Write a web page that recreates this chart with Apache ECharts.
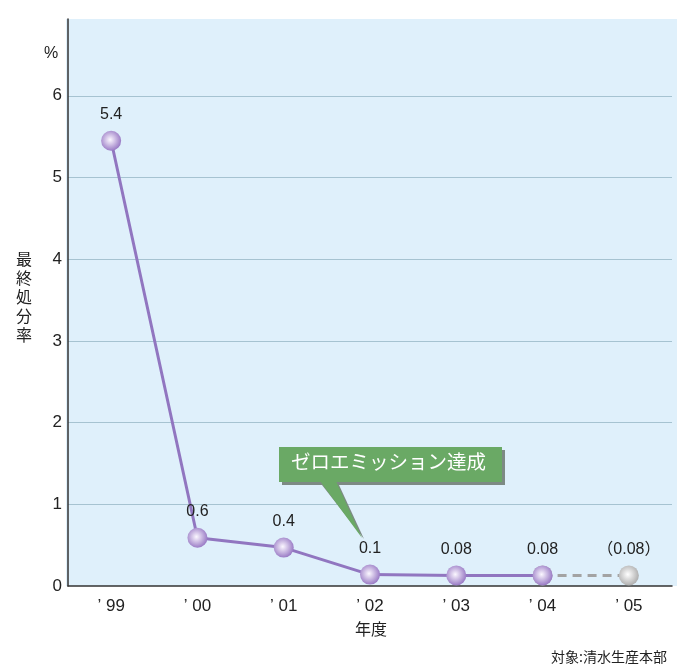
<!DOCTYPE html>
<html>
<head>
<meta charset="utf-8">
<script src="https://cdn.jsdelivr.net/npm/echarts@6/dist/echarts.min.js"></script>
<style>
html,body{margin:0;padding:0;background:#fff;}
#c{width:677px;height:668px;}
</style>
</head>
<body>
<div id="c"></div>
<script>
// Data
var categories = ['’ 99', '’ 00', '’ 01', '’ 02', '’ 03', '’ 04', '’ 05'];
var plottedValues = [5.45, 0.59, 0.47, 0.14, 0.13, 0.13, null];
var projectedValues = [null, null, null, null, null, 0.13, 0.13];
var valueLabels = ['5.4', '0.6', '0.4', '0.1', '0.08', '0.08', '（0.08）'];
var yTicks = [0, 1, 2, 3, 4, 5, 6];

var chart = echarts.init(document.getElementById('c'));
var latin = '"Liberation Sans", Arial, "Noto Sans CJK JP", sans-serif';
var cjk = '"Noto Sans CJK JP", sans-serif';

function sphere(c0, c1) {
  return {
    type: 'radial', x: 0.45, y: 0.45, r: 0.6,
    colorStops: [{offset: 0, color: c0}, {offset: 1, color: c1}]
  };
}
var purpleBall = sphere('#fbf7ff', '#9170c0');
var grayBall = sphere('#ffffff', '#a8a8a8');

var gridColors = ['rgba(0,0,0,0)'];
for (var i = 1; i < yTicks.length; i++) gridColors.push('#a6c3d1');
gridColors.push('rgba(0,0,0,0)');

var option = {
  animation: false,
  grid: {left: 68, right: 5, top: 19, bottom: 82, containLabel: false},
  xAxis: {
    type: 'category',
    data: categories,
    boundaryGap: true,
    axisLine: {show: true, lineStyle: {color: '#333', width: 1.5}},
    axisTick: {show: false},
    axisLabel: {color: '#222', fontSize: 17, fontFamily: latin, margin: 12}
  },
  yAxis: {
    type: 'value',
    min: 0, max: 6.94, interval: 1,
    axisLine: {show: true, lineStyle: {color: '#333', width: 1.5}},
    axisTick: {show: false},
    axisLabel: {color: '#222', fontSize: 17, fontFamily: latin, margin: 6, showMaxLabel: false,
      formatter: function (v) { return yTicks.indexOf(v) >= 0 ? String(v) : ''; }},
    splitLine: {show: true, lineStyle: {color: gridColors, width: 1.2}}
  },
  graphic: [
    {type: 'rect', z: -10, silent: true, shape: {x: 66, y: 19, width: 611, height: 567}, style: {fill: '#dff0fb'}},
    {type: 'text', left: 44, top: 46, style: {text: '%', fontSize: 16, fontFamily: latin, fill: '#222'}},
    {type: 'text', left: 16, top: 249, style: {text: '最\n終\n処\n分\n率', fontSize: 16, lineHeight: 19, fontFamily: cjk, fill: '#222'}},
    {type: 'text', left: 355, top: 621, style: {text: '年度', fontSize: 16, fontFamily: cjk, fill: '#222'}},
    {type: 'text', right: 10, top: 650, style: {text: '対象:清水生産本部', fontSize: 14, fontFamily: cjk, fill: '#222'}},
    // callout
    {type: 'polygon', z: 20, shape: {points: [[322, 485], [339, 485], [364, 539]]}, style: {fill: '#7d8a84'}},
    {type: 'rect', z: 20, shape: {x: 282, y: 450, width: 223, height: 35}, style: {fill: '#7d8a84'}},
    {type: 'polygon', z: 21, shape: {points: [[320, 481], [336, 481], [362, 538]]}, style: {fill: '#6aa965'}},
    {type: 'rect', z: 21, shape: {x: 279, y: 447, width: 223, height: 35}, style: {fill: '#6aa965'}},
    {type: 'text', z: 22, left: 291, top: 452, style: {text: 'ゼロエミッション達成', fontSize: 19.5, fontFamily: cjk, fill: '#ffffff'}}
  ],
  series: [
    {
      type: 'line',
      data: projectedValues,
      z: 2,
      symbol: 'circle', symbolSize: 20,
      lineStyle: {color: '#a3a3a3', width: 3, type: [9, 6]},
      itemStyle: {color: grayBall, borderWidth: 0},
      label: {show: true, position: 'top', distance: 8, color: '#222', fontSize: 16, fontFamily: latin,
        formatter: function (p) { return p.dataIndex === 6 ? valueLabels[6] : ''; }}
    },
    {
      type: 'line',
      data: plottedValues,
      z: 3,
      symbol: 'circle', symbolSize: 20,
      lineStyle: {color: '#9176c0', width: 3},
      itemStyle: {color: purpleBall, borderWidth: 0},
      label: {show: true, position: 'top', distance: 8, color: '#222', fontSize: 16, fontFamily: latin,
        formatter: function (p) { return valueLabels[p.dataIndex]; }}
    }
  ]
};
chart.setOption(option);
</script>
</body>
</html>
